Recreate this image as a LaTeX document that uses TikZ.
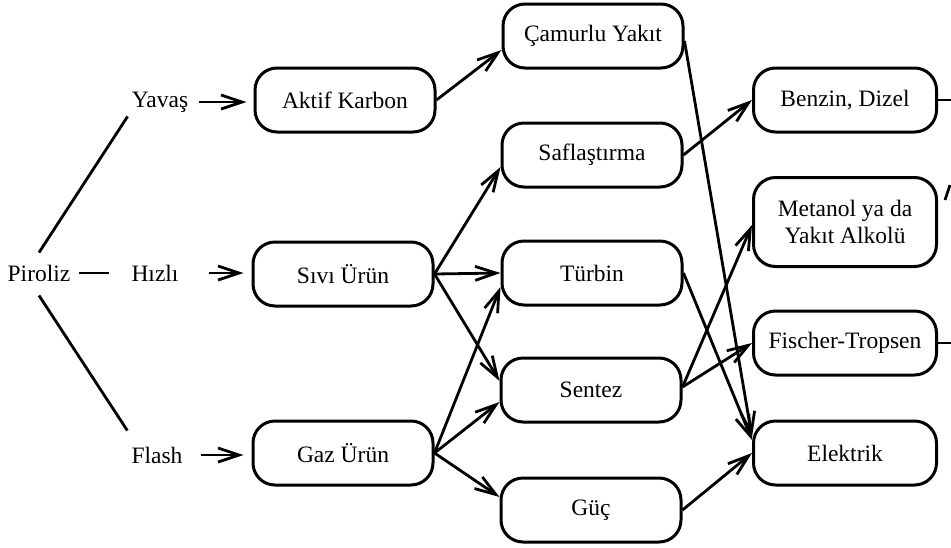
\documentclass[tikz,border=0pt]{standalone}
\usepackage{fontspec}
\setmainfont{Liberation Serif}
\usetikzlibrary{arrows.meta,calc}
\begin{document}
\begin{tikzpicture}[x=1pt,y=-1pt,
  txt/.style={font=\fontsize{23.5}{27}\selectfont},
  box/.style={txt,draw,line width=3pt,rounded corners=22pt,minimum width=180pt,minimum height=64pt,inner sep=0pt,align=center},
  lbl/.style={txt,inner sep=4pt},
  ln/.style={line width=2.8pt},
  arr/.style={ln,-{Straight Barb[length=21pt,width=14pt]}},
]
\useasboundingbox (0,0) rectangle (951,547);

% labels
\node[lbl] (piroliz) at (39,273) {Piroliz};
\node[lbl] (yavas) at (160,102) {Yavaş};
\node[lbl] (hizli) at (155,273) {Hızlı};
\node[lbl] (flash) at (157,455) {Flash};

% boxes
\node[box] (aktif) at (345,100) {Aktif Karbon};
\node[box] (sivi) at (343,274) {Sıvı Ürün};
\node[box] (gaz) at (343,453) {Gaz Ürün};
\node[box] (camurlu) at (593,36) {Çamurlu Yakıt};
\node[box] (safla) at (592,155) {Saflaştırma};
\node[box] (turbin) at (592,273) {Türbin};
\node[box] (sentez) at (591,390) {Sentez};
\node[box] (guc) at (591,510) {Güç};
\node[box,minimum width=183pt] (benzin) at (845,100) {Benzin, Dizel};
\node[box,minimum width=183pt,minimum height=89pt] (metanol) at (845,222) {Metanol ya da\\Yakıt Alkolü};
\node[box,minimum width=183pt] (fischer) at (845,343) {Fischer-Tropsen};
\node[box,minimum width=183pt] (elektrik) at (845,453) {Elektrik};

\coordinate (redge) at (951,0);
\coordinate (fraga) at (945,200);
\coordinate (fragb) at (950,185);

% Piroliz branches
\draw[ln] ($(piroliz.north)+(0,-8)$) -- (yavas.south west);
\draw[ln] ($(piroliz.south)+(0,10)$) -- ($(flash.north west)+(0,-12)$);
\draw[ln,shorten <=4pt] (piroliz.east) -- ($(hizli.west)+(-18,0)$);

% label arrows
\draw[arr,shorten <=7pt,shorten >=7pt] (yavas.east) -- (yavas.east -| aktif.west);
\draw[arr,shorten <=26pt,shorten >=8pt] (hizli.east) -- (hizli.east -| sivi.west);
\draw[arr,shorten <=14pt,shorten >=8pt] (flash.east) -- (flash.east -| gaz.west);

% box arrows
\draw[arr] (aktif.east) -- ($(camurlu.west)+(0,14)$);
\draw[arr] (sivi.east) -- ($(safla.west)+(0,12)$);
\draw[arr] (sivi.east) -- (turbin.west);
\draw[arr] (sivi.east) -- ($(sentez.west)+(0,-9)$);
\draw[arr] (gaz.east) -- ($(turbin.west)+(0,14)$);
\draw[arr] (gaz.east) -- ($(sentez.west)+(0,12)$);
\draw[arr] (gaz.east) -- ($(guc.west)+(0,-13)$);
\draw[arr] ($(camurlu.east)+(0,5)$) -- ($(elektrik.west)+(0,-16)$);
\draw[arr] (safla.east) -- (benzin.west);
\draw[arr] (turbin.east) -- ($(elektrik.west)+(0,-13)$);
\draw[arr] ($(sentez.east)+(0,-3)$) -- ($(metanol.west)+(0,3)$);
\draw[arr] ($(sentez.east)+(0,-3)$) -- (fischer.west);
\draw[arr] (guc.east) -- (elektrik.west);

% right edge
\draw[ln] (benzin.east) -- (benzin.east -| redge);
\draw[ln] (fischer.east) -- (fischer.east -| redge);
\draw[ln] (fraga) -- (fragb);
\end{tikzpicture}
\end{document}
